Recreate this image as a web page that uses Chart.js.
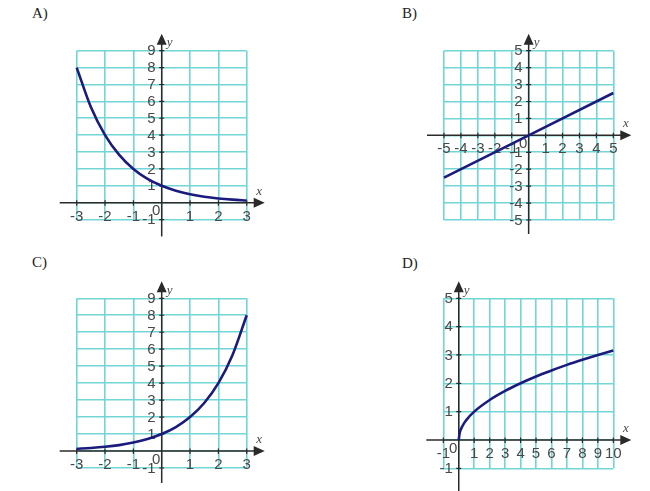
<!DOCTYPE html>
<html>
<head>
<meta charset="utf-8">
<script src="https://cdn.jsdelivr.net/npm/chart.js@4"></script>
<style>
  body { margin: 0; background: #fff; }
  #wrap { position: relative; width: 650px; height: 491px; overflow: hidden; }
  canvas { position: absolute; left: 0; top: 0; }
  .tag { position: absolute; font: 15px "Liberation Serif", "Times New Roman", serif; color: #222; }
</style>
</head>
<body>
<div id="wrap">
  <div class="tag" style="left:32px;top:5px">A)</div>
  <div class="tag" style="left:402px;top:5px">B)</div>
  <div class="tag" style="left:32px;top:254px">C)</div>
  <div class="tag" style="left:402px;top:255px">D)</div>
  <canvas id="chartA" width="650" height="491"></canvas>
  <canvas id="chartB" width="650" height="491"></canvas>
  <canvas id="chartC" width="650" height="491"></canvas>
  <canvas id="chartD" width="650" height="491"></canvas>
</div>
<script>
// curve points
const aX = [-3, -2.5, -2, -1.5, -1, -0.5, 0, 0.5, 1, 1.5, 2, 2.5, 3];
const aY = [8, 5.66, 4, 2.83, 2, 1.41, 1, 0.71, 0.5, 0.35, 0.25, 0.18, 0.13];
const bX = [-5, 0, 5];
const bY = [-2.5, 0, 2.5];
const cX = [-3, -2.5, -2, -1.5, -1, -0.5, 0, 0.5, 1, 1.5, 2, 2.5, 3];
const cY = [0.13, 0.18, 0.25, 0.35, 0.5, 0.71, 1, 1.41, 2, 2.83, 4, 5.66, 8];
const dX = [0, 0.05, 0.25, 0.5, 1, 2, 3, 4, 5, 6, 7, 8, 9, 10];
const dY = [0, 0.22, 0.5, 0.71, 1, 1.41, 1.73, 2, 2.24, 2.45, 2.65, 2.83, 3, 3.16];

// tick labels
const aXTicks = [-3, -2, -1, 1, 2, 3];
const aYTicks = [-1, 1, 2, 3, 4, 5, 6, 7, 8, 9];
const bXTicks = [-5, -4, -3, -2, -1, 1, 2, 3, 4, 5];
const bYTicks = [-5, -4, -3, -2, -1, 1, 2, 3, 4, 5];
const cXTicks = [-3, -2, -1, 1, 2, 3];
const cYTicks = [-1, 1, 2, 3, 4, 5, 6, 7, 8, 9];
const dXTicks = [-1, 1, 2, 3, 4, 5, 6, 7, 8, 9, 10];
const dYTicks = [-1, 1, 2, 3, 4, 5];

const GRID = '#72d6d6';
const CURVE = '#1b1b7e';
const INK = '#2a2a2a';

const axesPlugin = {
  id: 'axes',
  beforeDatasetsDraw(chart, args, opts) {
    const { ctx, chartArea: a } = chart;
    const x = chart.scales.x, y = chart.scales.y;
    const ox = x.getPixelForValue(0), oy = y.getPixelForValue(0);
    ctx.save();
    ctx.strokeStyle = INK;
    ctx.fillStyle = INK;
    ctx.lineWidth = 1.5;

    // axis lines
    ctx.beginPath();
    ctx.moveTo(a.left - 17, oy);
    ctx.lineTo(a.right + 8, oy);
    ctx.moveTo(ox, a.bottom + opts.below);
    ctx.lineTo(ox, a.top - 8);
    ctx.stroke();

    // arrow heads
    ctx.beginPath();
    ctx.moveTo(a.right + 18, oy);
    ctx.lineTo(a.right + 7, oy - 5);
    ctx.lineTo(a.right + 7, oy + 5);
    ctx.closePath();
    ctx.moveTo(ox, a.top - 17);
    ctx.lineTo(ox - 5, a.top - 6);
    ctx.lineTo(ox + 5, a.top - 6);
    ctx.closePath();
    ctx.fill();

    // tick marks
    ctx.lineWidth = 1.2;
    ctx.beginPath();
    opts.xTicks.forEach(v => {
      const px = x.getPixelForValue(v);
      ctx.moveTo(px, oy - 2.5);
      ctx.lineTo(px, oy + 3);
    });
    opts.yTicks.forEach(v => {
      const py = y.getPixelForValue(v);
      ctx.moveTo(ox - 2.5, py);
      ctx.lineTo(ox + 2.5, py);
    });
    ctx.stroke();

    // tick labels
    ctx.fillStyle = '#484848';
    ctx.font = '15px "Liberation Sans", Arial, sans-serif';
    ctx.textBaseline = 'middle';
    ctx.textAlign = 'center';
    opts.xTicks.forEach(v => {
      ctx.fillText(String(v), x.getPixelForValue(v), oy + 14);
    });
    ctx.textAlign = 'right';
    opts.yTicks.forEach(v => {
      ctx.fillText(String(v), ox - 6, y.getPixelForValue(v) + 0.5);
    });
    ctx.textAlign = 'center';
    ctx.fillText('0', ox - 5.5, oy + 8.5);

    // axis names
    ctx.font = 'italic 13px "Liberation Serif", "Times New Roman", serif';
    ctx.textAlign = 'center';
    ctx.fillText('x', a.right + 12.5, oy - 11.5);
    ctx.textAlign = 'left';
    ctx.fillText('y', ox + 5, a.top - 8);
    ctx.restore();
  }
};

function makePanel(id, xs, ys, xTicks, yTicks, range, box, below, smooth) {
  new Chart(document.getElementById(id), {
    type: 'scatter',
    data: {
      datasets: [{
        data: xs.map((v, i) => ({ x: v, y: ys[i] })),
        showLine: true,
        borderColor: CURVE,
        borderWidth: 2.6,
        pointRadius: 0,
        cubicInterpolationMode: smooth ? 'monotone' : 'default',
        tension: 0,
        clip: false
      }]
    },
    options: {
      responsive: false,
      animation: false,
      events: [],
      layout: {
        padding: { left: box[0], top: box[1], right: 650 - box[2], bottom: 491 - box[3] }
      },
      plugins: {
        legend: { display: false },
        tooltip: { enabled: false },
        axes: { xTicks: xTicks, yTicks: yTicks, below: below }
      },
      scales: {
        x: {
          type: 'linear', min: range[0], max: range[1],
          ticks: { display: false, stepSize: 1, maxTicksLimit: 30 },
          grid: { color: GRID, lineWidth: 1.6, drawTicks: false },
          border: { display: false }
        },
        y: {
          type: 'linear', min: range[2], max: range[3],
          ticks: { display: false, stepSize: 1, maxTicksLimit: 30 },
          grid: { color: GRID, lineWidth: 1.6, drawTicks: false },
          border: { display: false }
        }
      }
    },
    plugins: [axesPlugin]
  });
}

makePanel('chartA', aX, aY, aXTicks, aYTicks, [-3, 3, -1, 9], [76.7, 50.7, 246.7, 219.6], 17, true);
makePanel('chartB', bX, bY, bXTicks, bYTicks, [-5, 5, -5, 5], [444, 50.7, 613.3, 220], 14, false);
makePanel('chartC', cX, cY, cXTicks, cYTicks, [-3, 3, -1, 9], [76.7, 298.3, 246.7, 468], 15, true);
makePanel('chartD', dX, dY, dXTicks, dYTicks, [-1, 10, -1, 5], [443.3, 298.3, 613.3, 468.3], 24, true);
</script>
</body>
</html>
